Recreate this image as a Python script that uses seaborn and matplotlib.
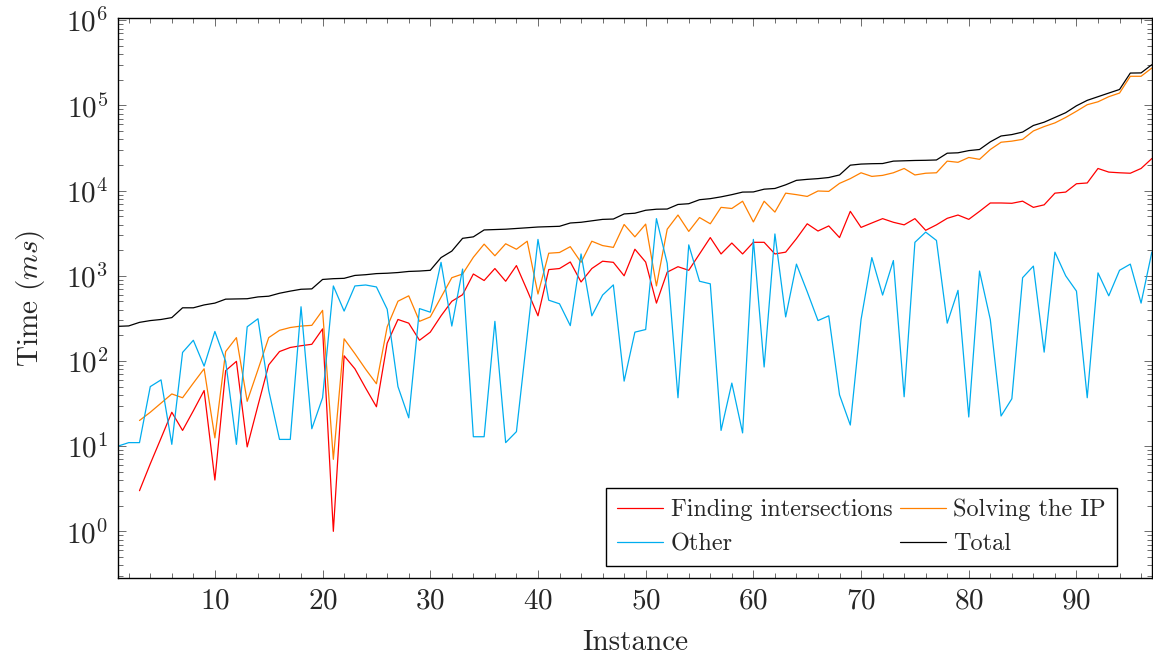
import numpy as np
import pandas as pd
import matplotlib
matplotlib.use("Agg")
import matplotlib.pyplot as plt
from matplotlib.ticker import MultipleLocator, LogLocator, NullFormatter, FixedLocator
import seaborn as sns

nan = np.nan

instances = list(range(1, 98))

finding = [nan, nan, 3, 6.2, 12.4, 25, 15.3, 26, 45, 4,
           77, 99, 9.8, 30, 90, 129, 144, 151, 157, 238,
           1, 115, 81, 48, 29, 162, 307, 278, 175, 218,
           339, 502, 600, 1050, 880, 1217, 863, 1318, 675, 339,
           1183, 1217, 1453, 846, 1217, 1483, 1439, 1000, 2050, 1450,
           478, 1104, 1279, 1160, 1805, 2810, 1805, 2425, 1805, 2473,
           2473, 1805, 1895, 2730, 4080, 3355, 3850, 2810, 5710, 3700,
           4170, 4690, 4250, 3965, 4690, 3420, 3965, 4730, 5170, 4600,
           5710, 7160, 7160, 7100, 7520, 6360, 6810, 9340, 9610, 12040,
           12300, 18200, 16500, 16200, 16000, 18200, 23800]

solving = [nan, nan, 20, 25, 32, 41, 37, 55, 81, 12.5,
           129, 188, 33.6, 79, 188, 229, 247, 257, 262, 393,
           7, 182, 122, 80, 54, 252, 503, 582, 292, 329,
           560, 950, 1050, 1650, 2354, 1718, 2377, 2050, 2546, 611,
           1841, 1878, 2198, 1439, 2546, 2264, 2155, 4004, 2866, 4045,
           760, 3525, 5170, 3320, 4830, 4080, 6360, 6170, 7510, 4290,
           7510, 5600, 9340, 8970, 8550, 9900, 9800, 12170, 13830, 16200,
           14690, 15100, 16200, 18200, 15270, 16000, 16200, 22200, 21500, 24500,
           23300, 30400, 37000, 38100, 40000, 50200, 56500, 62400, 72300, 85500,
           102000, 110400, 126700, 139800, 220000, 220000, 275000]

other = [10, 11, 11, 50, 60, 10.5, 126, 175, 87, 222,
         99, 10.5, 252, 313, 45, 12, 12, 433, 16, 37,
         760, 385, 760, 780, 740, 405, 50, 21.5, 412, 374,
         1439, 257, 1200, 12.9, 12.9, 292, 11, 14.8, 200, 2674,
         517, 469, 260, 1805, 339, 594, 782, 58, 218, 234,
         4690, 1400, 37, 2307, 863, 805, 15.3, 55, 14.3, 2674,
         85, 3100, 329, 1371, 650, 298, 339, 40, 17.7, 307,
         1636, 594, 1511, 38, 2473, 3257, 2600, 278, 675, 22,
         1137, 307, 22.6, 36, 950, 1300, 127, 1895, 1000, 661,
         37, 1082, 582, 1160, 1371, 478, 1895]

total = [255, 258, 284, 298, 307, 323, 421, 421, 455, 478,
         532, 535, 538, 565, 576, 624, 661, 695, 702, 906,
         925, 934, 1010, 1030, 1061, 1072, 1092, 1125, 1137, 1160,
         1636, 1950, 2754, 2866, 3455, 3490, 3525, 3594, 3665, 3740,
         3776, 3812, 4168, 4250, 4420, 4596, 4640, 5325, 5430, 5880,
         6050, 6080, 6880, 7020, 7820, 8050, 8450, 8970, 9610, 9650,
         10400, 10600, 11700, 13200, 13560, 13830, 14250, 15270, 19900, 20500,
         20700, 20800, 22200, 22400, 22600, 22700, 22900, 27500, 27800, 29500,
         30400, 37400, 43800, 45500, 48700, 58200, 63600, 72300, 82200, 99100,
         114800, 126700, 139800, 154000, 240000, 241000, 301000]

series_names = ["Finding intersections", "Solving the IP", "Other", "Total"]
series_colors = ["#ff0000", "#ff8000", "#00adef", "#000000"]

frames = []
for name, vals in zip(series_names, [finding, solving, other, total]):
    frames.append(pd.DataFrame({"Instance": instances, "Time": vals, "Series": name}))
df = pd.concat(frames, ignore_index=True).dropna()

sns.set_style("ticks")
plt.rcParams["font.family"] = ["serif"]
plt.rcParams["font.serif"] = ["cmr10", "DejaVu Serif"]
plt.rcParams["mathtext.fontset"] = "cm"
plt.rcParams["axes.formatter.use_mathtext"] = True
plt.rcParams["axes.unicode_minus"] = False

fig = plt.figure(figsize=(11.53, 6.56), dpi=100)
ax = fig.add_axes([0.1023, 0.1189, 0.8967, 0.8537])

sns.lineplot(data=df, x="Instance", y="Time", hue="Series",
             hue_order=series_names, palette=dict(zip(series_names, series_colors)),
             linewidth=0.9, ax=ax, legend=True, estimator=None, sort=True)

ax.set_yscale("log")
ax.set_xlim(1, 97)
ax.set_ylim(10 ** -0.548, 10 ** 6.027)

ax.xaxis.set_major_locator(FixedLocator([10, 20, 30, 40, 50, 60, 70, 80, 90]))
ax.xaxis.set_minor_locator(MultipleLocator(2))
ax.xaxis.set_minor_formatter(NullFormatter())
ax.yaxis.set_major_locator(FixedLocator([1, 10, 100, 1e3, 1e4, 1e5, 1e6]))
ax.yaxis.set_minor_locator(LogLocator(base=10, subs=np.arange(2, 10), numticks=20))
ax.yaxis.set_minor_formatter(NullFormatter())

ax.tick_params(which="both", direction="in", top=True, right=True,
               labelsize=21, color="#555555", width=0.6)
ax.tick_params(which="major", length=6, pad=7)
ax.tick_params(which="minor", length=3.5)
for sp in ax.spines.values():
    sp.set_linewidth(1.0)
    sp.set_color("black")

ax.set_xlabel("Instance", fontsize=21, labelpad=11)
ax.set_ylabel("Time ($ms$)", fontsize=21, labelpad=14)

handles, labels = ax.get_legend_handles_labels()
lookup = dict(zip(labels, handles))
order = ["Finding intersections", "Other", "Solving the IP", "Total"]
leg = ax.legend([lookup[k] for k in order], order, ncol=2, loc="lower right",
                bbox_to_anchor=(0.966, 0.021), fontsize=17.5, frameon=True,
                fancybox=False, framealpha=1, edgecolor="black",
                handlelength=1.9, handletextpad=0.3, columnspacing=0.3,
                borderpad=0.45, labelspacing=0.5, borderaxespad=0)
leg.get_frame().set_linewidth(1.0)

fig.savefig("out.png", dpi=100)
